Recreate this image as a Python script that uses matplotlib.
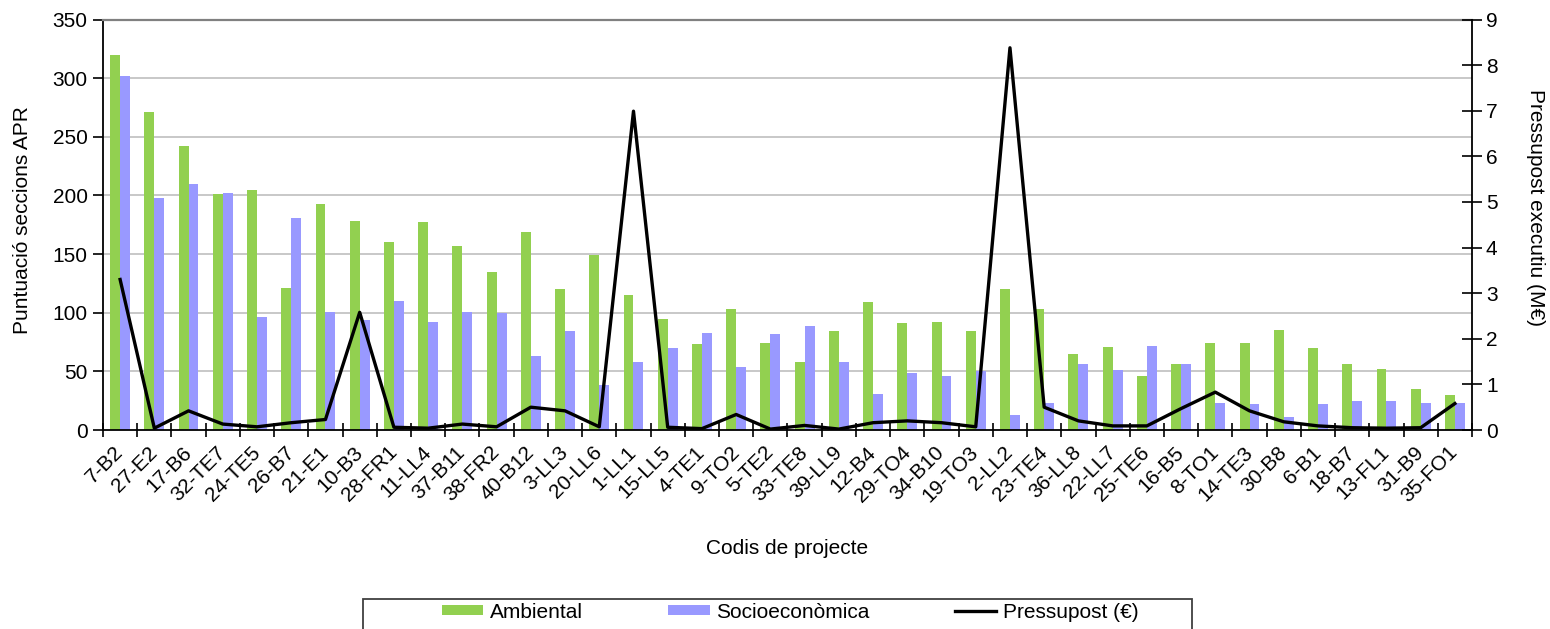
import matplotlib
matplotlib.use("Agg")
import matplotlib.pyplot as plt
import numpy as np
from matplotlib.patches import Rectangle, Patch
from matplotlib.lines import Line2D

plt.rcParams['font.family'] = ['Liberation Sans', 'DejaVu Sans']

codes = ["7-B2", "27-E2", "17-B6", "32-TE7", "24-TE5", "26-B7", "21-E1", "10-B3",
         "28-FR1", "11-LL4", "37-B11", "38-FR2", "40-B12", "3-LL3", "20-LL6", "1-LL1",
         "15-LL5", "4-TE1", "9-TO2", "5-TE2", "33-TE8", "39-LL9", "12-B4", "29-TO4",
         "34-B10", "19-TO3", "2-LL2", "23-TE4", "36-LL8", "22-LL7", "25-TE6", "16-B5",
         "8-TO1", "14-TE3", "30-B8", "6-B1", "18-B7", "13-FL1", "31-B9", "35-FO1"]

ambiental = [320, 271, 242, 201, 205, 121, 193, 178, 160, 177, 157, 135, 169, 120, 149,
             115, 95, 73, 103, 74, 58, 84, 109, 91, 92, 84, 120, 103, 65, 71,
             46, 56, 74, 74, 85, 70, 56, 52, 35, 30]

socioeconomica = [302, 198, 210, 202, 96, 181, 101, 94, 110, 92, 101, 100, 63, 84, 38,
                  58, 70, 83, 54, 82, 89, 58, 31, 49, 46, 50, 13, 23, 56, 51,
                  72, 56, 23, 22, 11, 22, 25, 25, 23, 23]

pressupost = [3.30, 0.04, 0.42, 0.13, 0.07, 0.16, 0.23, 2.58, 0.06, 0.04, 0.13, 0.07, 0.50,
              0.42, 0.07, 6.99, 0.06, 0.03, 0.34, 0.02, 0.10, 0.02, 0.16, 0.20, 0.16,
              0.07, 8.38, 0.50, 0.20, 0.09, 0.09, 0.47, 0.83, 0.42, 0.18, 0.09, 0.05,
              0.04, 0.05, 0.58]

GREEN = "#92D050"
BLUE = "#9999FF"
FS = 15

fig = plt.figure(figsize=(15.5, 6.29), dpi=100)
ax = fig.add_axes([103 / 1550, 1 - 430 / 629, 1369 / 1550, 410.5 / 629])

x = np.arange(len(codes))
w = 0.29
ax.bar(x - w / 2, ambiental, width=w, color=GREEN, zorder=2)
ax.bar(x + w / 2, socioeconomica, width=w, color=BLUE, zorder=2)

ax.set_xlim(-0.5, len(codes) - 0.5)
ax.set_ylim(0, 350)
ax.set_yticks(np.arange(0, 351, 50))
for yv in range(50, 350, 50):
    ax.axhline(yv, color="#C4C4C4", lw=1.3, zorder=1)

# category labels at centres, tick marks on the boundaries
ax.set_xticks(x)
ax.set_xticklabels(codes, rotation=45, ha="right", va="center",
                   rotation_mode="anchor", fontsize=FS)
ax.tick_params(axis="x", which="major", length=0, pad=14)
ax.set_xticks(np.arange(-0.5, len(codes), 1.0), minor=True)
ax.tick_params(axis="x", which="minor", direction="inout", length=10, width=1.2, color="black")
ax.tick_params(axis="y", direction="out", length=7, width=1.2, labelsize=FS, pad=4)

ax.set_ylabel("Puntuació seccions APR", fontsize=FS)
ax.yaxis.set_label_coords(-0.052, 0.512)

for s in ("left", "bottom"):
    ax.spines[s].set_color("black")
    ax.spines[s].set_linewidth(1.3)
ax.spines["top"].set_color("#808080")
ax.spines["top"].set_linewidth(1.6)
ax.spines["right"].set_visible(False)

ax2 = ax.twinx()
ax2.plot(x, pressupost, color="black", lw=2.4, zorder=5)
ax2.set_ylim(0, 9)
ax2.set_yticks(range(0, 10))
ax2.tick_params(axis="y", direction="inout", length=14, width=1.2, labelsize=FS, pad=3)
ax2.spines["right"].set_color("black")
ax2.spines["right"].set_linewidth(1.3)
ax2.spines["top"].set_visible(False)
ax2.spines["left"].set_visible(False)
ax2.spines["bottom"].set_visible(False)
ax2.set_ylabel("Pressupost executiu (M€)", fontsize=FS, rotation=270, va="center")
ax2.yaxis.set_label_coords(1.0465, 0.543)

fig.text(787 / 1550, 1 - 548 / 629, "Codis de projecte", fontsize=FS,
         ha="center", va="center")

# legend box, running off the lower edge of the figure
fig.patches.append(Rectangle((363 / 1550, -0.05), (1192 - 363) / 1550, 0.05 + 1 - 599 / 629,
                             transform=fig.transFigure, fill=False,
                             edgecolor="#404040", lw=1.3))
handles = [Patch(facecolor=GREEN, edgecolor="none"),
           Patch(facecolor=BLUE, edgecolor="none"),
           Line2D([0], [0], color="black", lw=2.4)]
fig.legend(handles, ["Ambiental", "Socioeconòmica", "Pressupost (€)"],
           loc="center", bbox_to_anchor=(790 / 1550, 1 - 612 / 629), ncol=3,
           frameon=False, fontsize=FS, handlelength=2.0, handleheight=0.3,
           handletextpad=0.3, columnspacing=4.1, borderpad=0)

fig.savefig("out.png", dpi=100)
